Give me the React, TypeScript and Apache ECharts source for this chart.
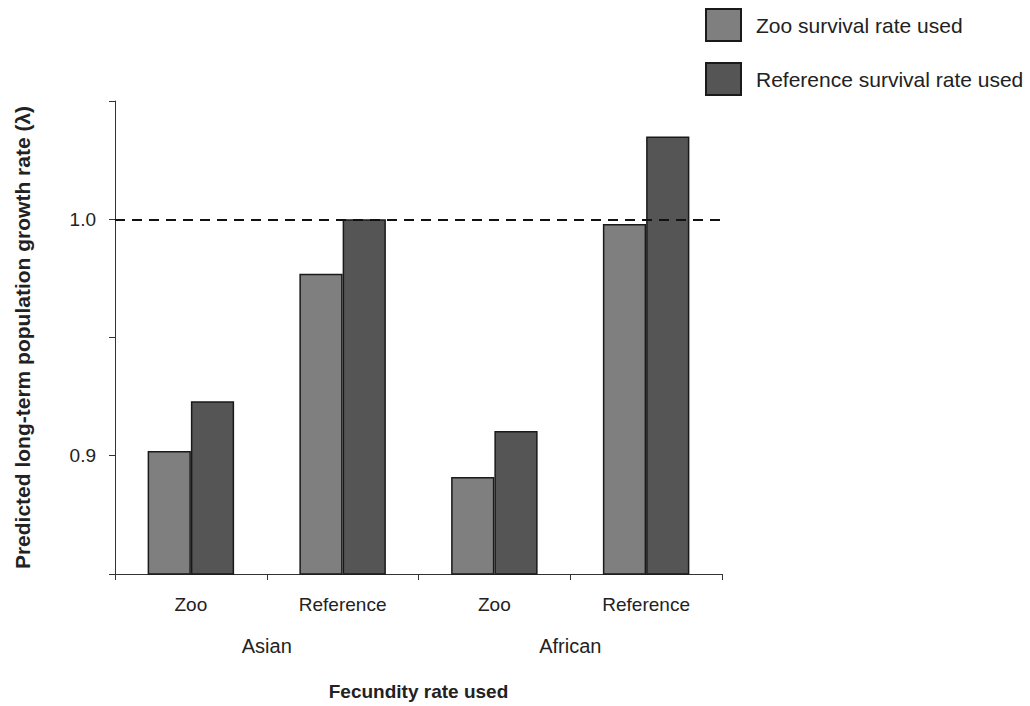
import React, { useEffect, useRef } from "react";
import * as echarts from "echarts";

const categories = ["Zoo", "Reference", "Zoo", "Reference"];
const groups = ["Asian", "African"];
const zooSurvival = [0.902, 0.977, 0.891, 0.998];
const refSurvival = [0.923, 1.0, 0.9105, 1.035];
const seriesNames = ["Zoo survival rate used", "Reference survival rate used"];
const yLabels = [0.9, 1.0];
const threshold = 1.0;

const FONT = "'Liberation Sans', Arial, sans-serif";

export default function App() {
  const ref = useRef<HTMLDivElement>(null);
  useEffect(() => {
    if (!ref.current) return;
    const chart = echarts.init(ref.current, undefined, { renderer: "svg" });
    chart.setOption({
      animation: false,
      textStyle: { fontFamily: FONT },
      grid: { left: 115, right: 308, top: 101, bottom: 130, containLabel: false },
      legend: {
        orient: "vertical",
        left: 705,
        top: 8,
        padding: 0,
        icon: "rect",
        itemWidth: 35,
        itemHeight: 32,
        itemGap: 20,
        textStyle: { fontSize: 21, color: "#222", fontFamily: FONT, padding: [0, 0, 0, 10] },
        data: seriesNames,
      },
      xAxis: [
        {
          type: "category",
          data: categories,
          position: "bottom",
          axisLine: { lineStyle: { color: "#333", width: 1 } },
          axisTick: { show: true, length: 6, lineStyle: { color: "#333" } },
          axisLabel: { fontSize: 19, color: "#222", margin: 21, fontFamily: FONT },
        },
        {
          type: "category",
          data: groups,
          position: "bottom",
          offset: 40,
          axisLine: { show: false },
          axisTick: { show: false },
          axisLabel: { fontSize: 20, color: "#222", margin: 22, fontFamily: FONT },
          name: "Fecundity rate used",
          nameLocation: "middle",
          nameGap: 68,
          nameTextStyle: { fontSize: 19, fontWeight: "bold", color: "#222", fontFamily: FONT },
        },
      ],
      yAxis: {
        type: "value",
        min: 0.85,
        max: 1.05,
        interval: 0.05,
        splitLine: { show: false },
        axisLine: { show: true, lineStyle: { color: "#333", width: 1 } },
        axisTick: { show: true, length: 6, lineStyle: { color: "#333" } },
        axisLabel: {
          fontSize: 19,
          color: "#222",
          margin: 19,
          fontFamily: FONT,
          formatter: (v: number) => {
            const m = yLabels.find((l) => Math.abs(l - v) < 1e-6);
            return m !== undefined ? m.toFixed(1) : "";
          },
        },
        name: "Predicted long-term population growth rate (\u03bb)",
        nameLocation: "middle",
        nameGap: 82,
        nameTextStyle: { fontSize: 21, fontWeight: "bold", color: "#222", fontFamily: FONT },
      },
      series: [
        {
          name: seriesNames[0],
          type: "bar",
          xAxisIndex: 0,
          data: zooSurvival,
          barGap: "0%",
          barCategoryGap: "43%",
          itemStyle: { color: "#7f7f7f", borderColor: "#1a1a1a", borderWidth: 1.5 },
          markLine: {
            silent: true,
            symbol: "none",
            label: { show: false },
            lineStyle: { color: "#111", type: [10, 7], width: 2 },
            data: [{ yAxis: threshold }],
          },
        },
        {
          name: seriesNames[1],
          type: "bar",
          xAxisIndex: 0,
          data: refSurvival,
          barGap: "0%",
          barCategoryGap: "43%",
          itemStyle: { color: "#555555", borderColor: "#1a1a1a", borderWidth: 1.5 },
        },
      ],
    });
    return () => chart.dispose();
  }, []);
  return (
    <div
      ref={ref}
      style={{ position: "absolute", left: 0, top: 0, width: 1030, height: 706 }}
    />
  );
}
